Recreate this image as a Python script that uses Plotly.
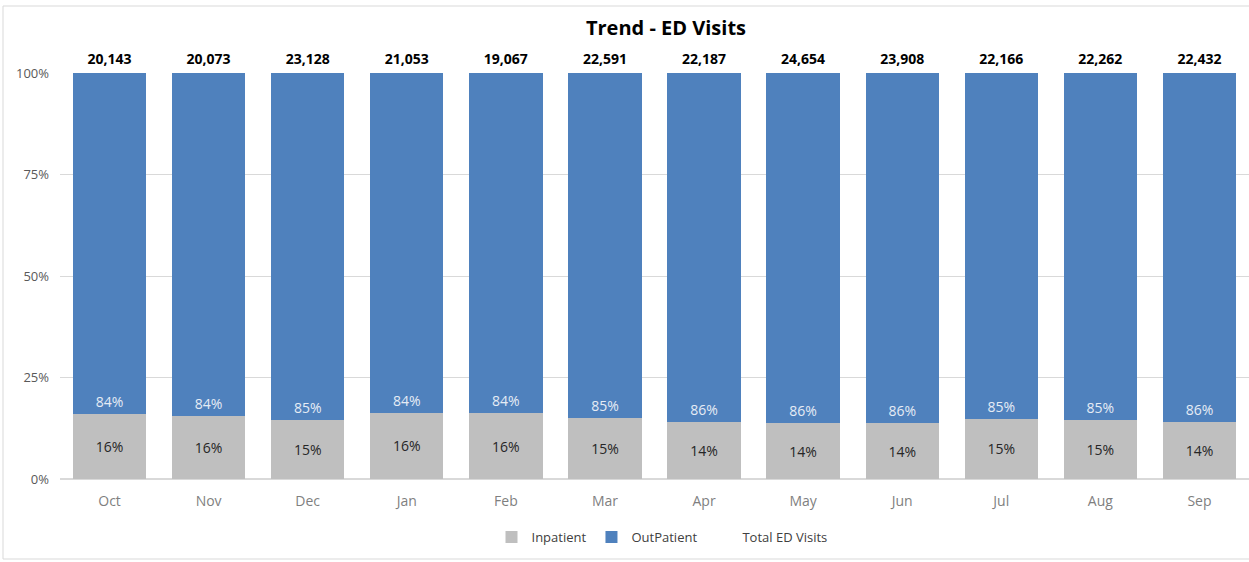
import plotly.graph_objects as go

months = ["Oct", "Nov", "Dec", "Jan", "Feb", "Mar", "Apr", "May", "Jun", "Jul", "Aug", "Sep"]
inpatient = [0.160, 0.156, 0.146, 0.163, 0.162, 0.150, 0.140, 0.137, 0.137, 0.148, 0.146, 0.140]
outpatient = [1 - v for v in inpatient]
total_visits = [20143, 20073, 23128, 21053, 19067, 22591, 22187, 24654, 23908, 22166, 22262, 22432]

FONT = "Open Sans"

fig = go.Figure()
fig.add_trace(go.Bar(
    x=months, y=inpatient, name="Inpatient",
    marker=dict(color="#bfbfbf", line=dict(width=0)),
    texttemplate="%{y:.0%}", textposition="inside", insidetextanchor="middle",
    textfont=dict(family=FONT, size=14, color="#262626"),
))
fig.add_trace(go.Bar(
    x=months, y=outpatient, name="OutPatient",
    marker=dict(color="#4f81bd", line=dict(width=0)),
    texttemplate="%{y:.0%}", textposition="inside", insidetextanchor="start",
    textfont=dict(family=FONT, size=14, color="#e6ecf5"),
))
fig.add_trace(go.Scatter(
    x=months, y=[1.0] * len(months), name="Total ED Visits",
    mode="markers+text", marker=dict(size=8, color="rgba(0,0,0,0)"),
    text=[f"{v:,}" for v in total_visits], textposition="top center",
    textfont=dict(family=FONT, size=14, color="#000000", weight="bold"),
    cliponaxis=False,
))

fig.update_layout(
    width=1249, height=562,
    barmode="stack", bargap=0.26,
    paper_bgcolor="white", plot_bgcolor="white",
    margin=dict(l=60, r=0, t=73, b=83, autoexpand=False),
    font=dict(family=FONT, color="#595959"),
    title=dict(text="<b>Trend - ED Visits</b>", x=666 / 1249, xanchor="center",
               y=1 - 28 / 562, yanchor="middle", automargin=False,
               font=dict(family=FONT, size=20, color="#000000")),
    xaxis=dict(showgrid=False, showline=False, ticks="", automargin=False,
               range=[-0.5, len(months) - 0.5],
               ticklabelstandoff=12,
               tickfont=dict(size=14, color="#7f7f7f")),
    yaxis=dict(range=[0, 1], tickvals=[0, 0.25, 0.5, 0.75, 1.0], tickformat=".0%",
               showgrid=True, gridcolor="#d9d9d9", gridwidth=1, automargin=False,
               zeroline=True, zerolinecolor="#d9d9d9", zerolinewidth=2,
               ticklabelstandoff=10,
               tickfont=dict(size=13, color="#595959"), ticks="", ticklen=0),
    legend=dict(orientation="h", xref="container", yref="container",
                x=662 / 1249, xanchor="center", y=25 / 562, yanchor="middle",
                itemwidth=30,
                font=dict(family=FONT, size=13, color="#404040"), traceorder="normal"),
    shapes=[
        dict(type="rect", xref="paper", yref="paper",
             x0=-57 / 1189, x1=1.0 + 10 / 1189,
             y0=-80 / 406, y1=1 + 67 / 406,
             line=dict(color="#d9d9d9", width=1), layer="below"),
    ],
)

fig.write_html("out.html", config={"displayModeBar": False},
               post_script="document.body.style.margin='0';")
